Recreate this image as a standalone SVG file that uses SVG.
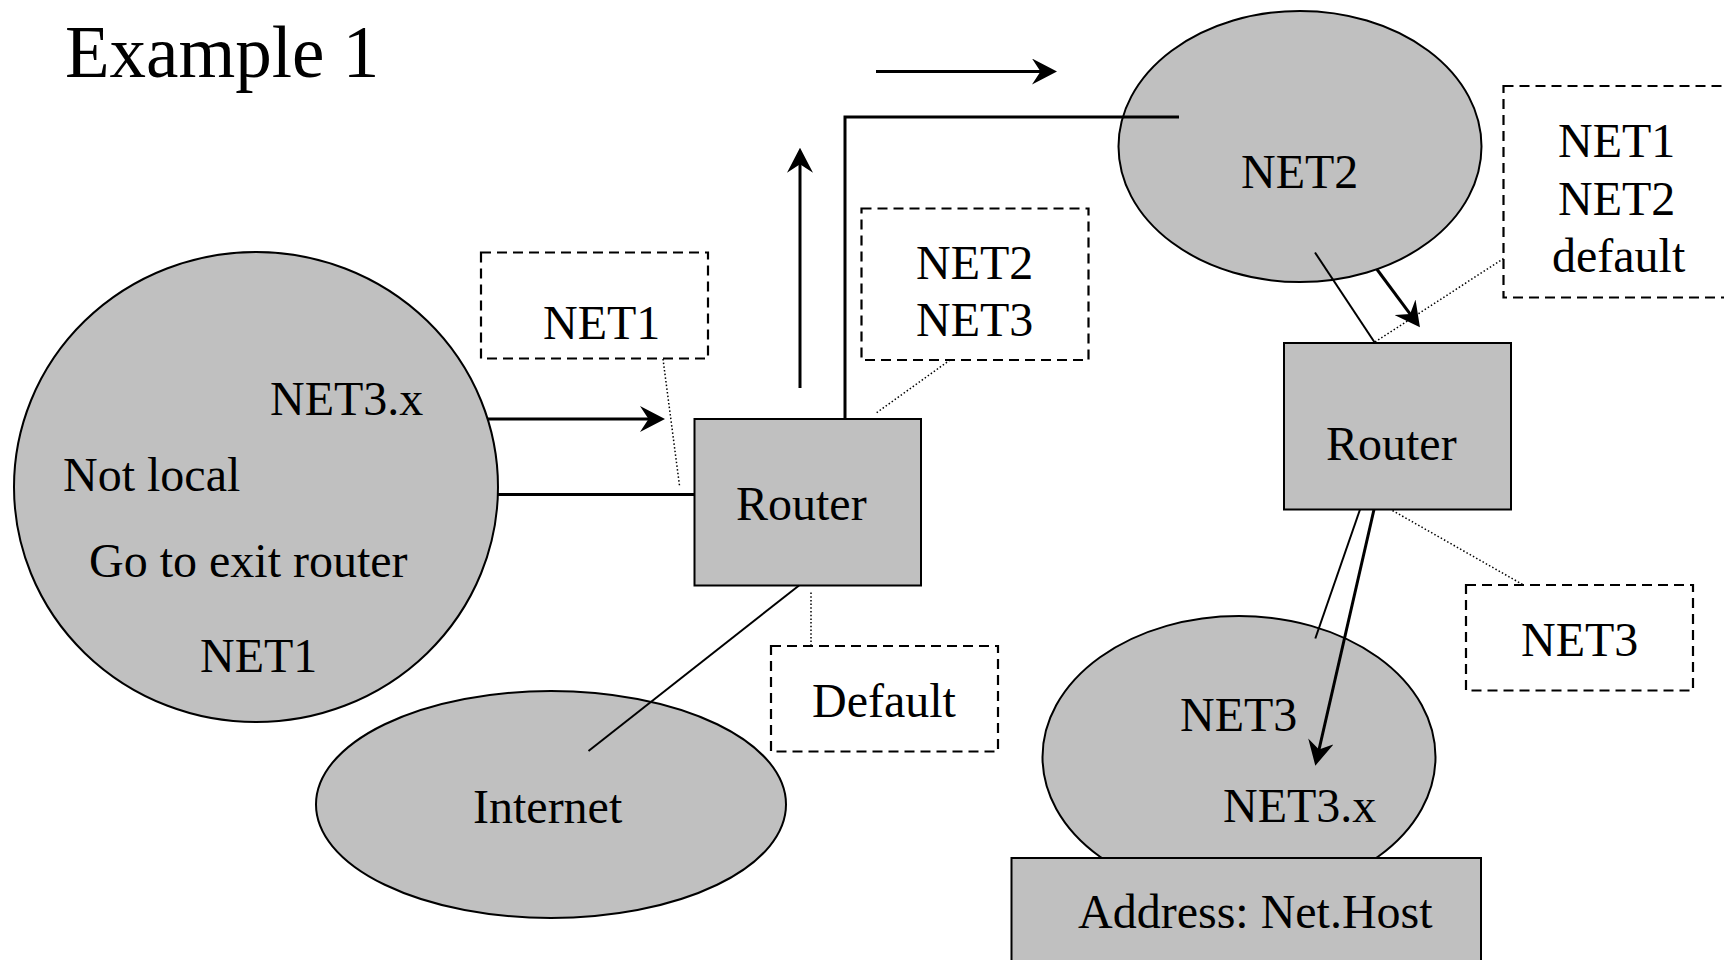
<svg xmlns="http://www.w3.org/2000/svg" width="1724" height="960" viewBox="0 0 1724 960">
  <style>
    text { font-family: "Liberation Serif", "Times New Roman", serif; font-size: 48px; fill: #000; }
    .title { font-size: 73px; }
    .net { fill: #c0c0c0; stroke: #000; stroke-width: 2; }
    .box { fill: #c0c0c0; stroke: #000; stroke-width: 2; }
    .table { fill: #fff; stroke: #000; stroke-width: 2.2; stroke-dasharray: 10 6; }
    .link { fill: none; stroke: #000; stroke-width: 3; }
    .thin { fill: none; stroke: #000; stroke-width: 2; }
    .dot { fill: none; stroke: #000; stroke-width: 1.5; stroke-dasharray: 1.5 2.2; }
    .arrow { fill: none; stroke: #000; stroke-width: 3; marker-end: url(#head); }
  </style>
  <defs>
    <marker id="head" markerUnits="userSpaceOnUse" viewBox="0 0 25 26" markerWidth="25" markerHeight="26" refX="13" refY="13" orient="auto">
      <path d="M0,0 L25,13 L0,26 L8.5,13 Z" fill="#000"/>
    </marker>
  </defs>

  <rect width="1724" height="960" fill="#fff"/>

  <text class="title" x="65" y="77">Example 1</text>

  <!-- local network NET1 -->
  <g id="net1">
    <ellipse class="net" cx="256" cy="487" rx="242" ry="235"/>
    <text x="270" y="415">NET3.x</text>
    <text x="63" y="491">Not local</text>
    <text x="89" y="577">Go to exit router</text>
    <text x="200" y="672">NET1</text>
  </g>

  <!-- routing table entries next to the exit router -->
  <g id="table-net1">
    <rect class="table" x="481" y="252.5" width="227" height="106"/>
    <text x="543" y="339">NET1</text>
  </g>
  <g id="table-net2-net3">
    <rect class="table" x="861.5" y="208.5" width="227" height="151.5"/>
    <text x="916" y="279">NET2</text>
    <text x="916" y="336">NET3</text>
  </g>
  <g id="table-default">
    <rect class="table" x="771" y="646" width="227" height="105.5"/>
    <text x="812" y="717">Default</text>
  </g>

  <!-- exit router -->
  <g id="router1">
    <rect class="box" x="694.5" y="419" width="226.5" height="166.5"/>
    <text x="736" y="520">Router</text>
  </g>

  <!-- Internet cloud -->
  <g id="internet">
    <ellipse class="net" cx="551" cy="804.5" rx="235" ry="113.5"/>
    <text x="473" y="823">Internet</text>
  </g>

  <!-- backbone NET2 -->
  <g id="net2">
    <ellipse class="net" cx="1300" cy="146.5" rx="181.5" ry="135.5"/>
    <text x="1241" y="188">NET2</text>
  </g>

  <!-- table of the second router -->
  <g id="table-router2">
    <rect class="table" x="1503.5" y="86" width="240" height="211.5"/>
    <text x="1558" y="157">NET1</text>
    <text x="1558" y="215">NET2</text>
    <text x="1552" y="272">default</text>
  </g>

  <!-- second router -->
  <g id="router2">
    <rect class="box" x="1284" y="343" width="227" height="166.5"/>
    <text x="1326" y="460">Router</text>
  </g>

  <g id="table-net3">
    <rect class="table" x="1466" y="585" width="227" height="105.5"/>
    <text x="1521" y="656">NET3</text>
  </g>

  <!-- destination network NET3 with host address -->
  <g id="net3">
    <ellipse class="net" cx="1239" cy="757" rx="196.5" ry="141"/>
    <text x="1180" y="731">NET3</text>
    <text x="1223" y="822">NET3.x</text>
  </g>
  <g id="address">
    <rect class="box" x="1011.5" y="858" width="469.5" height="120"/>
    <text x="1078" y="928">Address: Net.Host</text>
  </g>

  <!-- links, packet path arrows and table callouts -->
  <g id="connectors">
    <line class="link" x1="498" y1="494.5" x2="694.5" y2="494.5"/>
    <polyline class="link" points="845,418 845,117 1179,117"/>
    <line class="thin" x1="799" y1="585.5" x2="588.5" y2="751"/>
    <line class="thin" x1="1315" y1="252.5" x2="1375" y2="343"/>
    <line class="thin" x1="1360" y1="509.5" x2="1315.3" y2="638.5"/>

    <line class="arrow" x1="488" y1="419" x2="653" y2="419"/>
    <line class="arrow" x1="800" y1="388" x2="800" y2="159.7"/>
    <line class="arrow" x1="876" y1="71.5" x2="1045" y2="71.5"/>
    <line class="arrow" x1="1376.7" y1="269" x2="1412.8" y2="317.7"/>
    <line class="arrow" x1="1374" y1="509.5" x2="1318" y2="754"/>

    <line class="dot" x1="663" y1="359" x2="679.5" y2="485.5"/>
    <line class="dot" x1="950" y1="360" x2="875.5" y2="413.5"/>
    <line class="dot" x1="811" y1="592.5" x2="811" y2="645"/>
    <line class="dot" x1="1503.5" y1="258.5" x2="1375" y2="342"/>
    <line class="dot" x1="1392.5" y1="510.5" x2="1523.5" y2="585"/>
  </g>
</svg>
